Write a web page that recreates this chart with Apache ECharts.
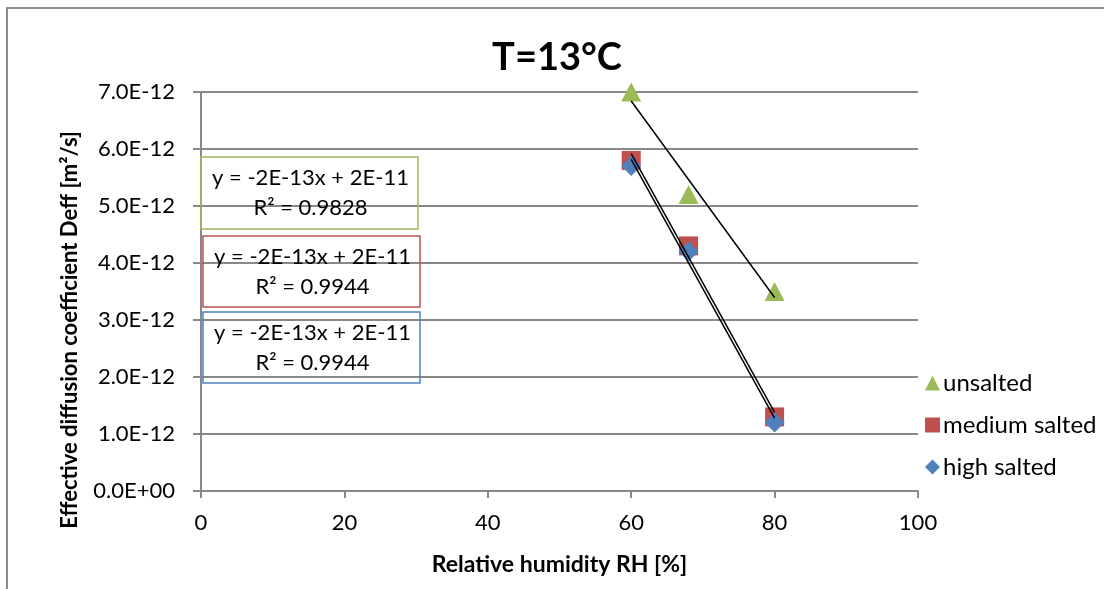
<!DOCTYPE html>
<html>
<head>
<meta charset="utf-8">
<script src="https://cdn.jsdelivr.net/npm/echarts@6/dist/echarts.min.js"></script>
<style>html,body{margin:0;padding:0;background:#fff}#c{width:1104px;height:589px}</style>
</head>
<body>
<div id="c"></div>
<script>
var titleText = 'T=13°C';
var xName = 'Relative humidity RH [%]';
var yName = 'Effective diffusion coefficient Deff [m²/s]';
var xValues = [60, 68, 80];
var unsalted = [7.0e-12, 5.2e-12, 3.5e-12];
var mediumSalted = [5.8e-12, 4.3e-12, 1.3e-12];
var highSalted = [5.7e-12, 4.2e-12, 1.2e-12];
var seriesNames = ['unsalted', 'medium salted', 'high salted'];
var eqLabels = [
  ['y = -2E-13x + 2E-11', 'R² = 0.9828'],
  ['y = -2E-13x + 2E-11', 'R² = 0.9944'],
  ['y = -2E-13x + 2E-11', 'R² = 0.9944']
];
var yTickLabels = ['0.0E+00','1.0E-12','2.0E-12','3.0E-12','4.0E-12','5.0E-12','6.0E-12','7.0E-12'];

var colors = ['#9BBB59', '#C0504D', '#4F81BD'];
var FONT = 'Lato, "Open Sans", sans-serif';

function pairs(xs, ys) { return xs.map(function (x, i) { return [x, ys[i]]; }); }
function trend(xs, ys) {
  var n = xs.length, mx = 0, my = 0;
  for (var i = 0; i < n; i++) { mx += xs[i]; my += ys[i]; }
  mx /= n; my /= n;
  var sxy = 0, sxx = 0;
  for (var j = 0; j < n; j++) { sxy += (xs[j] - mx) * (ys[j] - my); sxx += (xs[j] - mx) * (xs[j] - mx); }
  var b = sxy / sxx, a = my - b * mx;
  var x0 = Math.min.apply(null, xs), x1 = Math.max.apply(null, xs);
  return [[x0, a + b * x0], [x1, a + b * x1]];
}

var chart = echarts.init(document.getElementById('c'), null, { renderer: 'canvas' });
var allY = [unsalted, mediumSalted, highSalted];
var symbols = ['triangle', 'rect', 'diamond'];
var sizes = [[20, 19], [19, 19], [20, 20]];
var series = [];
for (var k = 0; k < 3; k++) {
  series.push({
    name: seriesNames[k], type: 'scatter', data: pairs(xValues, allY[k]),
    symbol: symbols[k], symbolSize: sizes[k],
    itemStyle: { color: colors[k], opacity: 1 }, z: 2
  });
}
for (var m = 0; m < 3; m++) {
  series.push({
    name: 'trend' + m, type: 'line', data: trend(xValues, allY[m]),
    showSymbol: false, symbol: 'none', silent: true,
    lineStyle: { color: '#000', width: 1.5 }, z: 5
  });
}

var boxes = [
  { x: 201, y: 157, w: 217, h: 72, c: colors[0] },
  { x: 203, y: 236, w: 217, h: 71, c: colors[1] },
  { x: 203, y: 312, w: 217, h: 71, c: colors[2] }
];
var graphics = [
  { type: 'rect', shape: { x: 7, y: 8, width: 1110, height: 600 }, style: { fill: 'none', stroke: '#8c8c8c', lineWidth: 2 }, silent: true },
  { type: 'text', x: 70, y: 330, rotation: Math.PI / 2, style: { text: yName, font: 'bold 22px ' + FONT, fill: '#000', textAlign: 'center', textVerticalAlign: 'middle' } }
];
boxes.forEach(function (b, i) {
  graphics.push({ type: 'rect', shape: { x: b.x, y: b.y, width: b.w, height: b.h }, style: { fill: 'none', stroke: b.c, lineWidth: 1.5 }, z: 10 });
  graphics.push({ type: 'text', x: b.x + b.w / 2 + 1, y: b.y + b.h / 2, z: 10,
    style: { text: eqLabels[i].join('\n'), font: '22px ' + FONT, lineHeight: 30, fill: '#000', textAlign: 'center', textVerticalAlign: 'middle' } });
});

chart.setOption({
  animation: false,
  backgroundColor: '#fff',
  title: { text: titleText, left: 552, top: 34, textAlign: 'center',
    textStyle: { fontFamily: FONT, fontWeight: 'bold', fontSize: 38, color: '#000' } },
  grid: { left: 201, right: 186, top: 92, bottom: 98, containLabel: false },
  legend: {
    data: seriesNames.map(function (n, i) { return { name: n, icon: symbols[i] }; }),
    orient: 'vertical', left: 920, top: 366, itemWidth: 15, itemHeight: 15, itemGap: 18,
    textStyle: { fontFamily: FONT, fontSize: 24, color: '#000', lineHeight: 24, padding: [0, 0, 0, -2] }
  },
  xAxis: {
    type: 'value', min: 0, max: 100, interval: 20,
    name: xName, nameLocation: 'middle', nameGap: 62,
    nameTextStyle: { fontFamily: FONT, fontWeight: 'bold', fontSize: 23, color: '#000' },
    axisLine: { show: true, lineStyle: { color: '#888', width: 2 } },
    axisTick: { show: true, length: 7, lineStyle: { color: '#888', width: 2 } },
    axisLabel: { fontFamily: FONT, fontSize: 22, color: '#000', margin: 21 },
    splitLine: { show: false }
  },
  yAxis: {
    type: 'value', min: 0, max: 7e-12, interval: 1e-12,
    axisLine: { show: true, lineStyle: { color: '#888', width: 2 } },
    axisTick: { show: true, length: 8, lineStyle: { color: '#888', width: 2 } },
    axisLabel: { fontFamily: FONT, fontSize: 22, color: '#000', margin: 26,
      formatter: function (v) { return yTickLabels[Math.round(v / 1e-12)]; } },
    splitLine: { show: true, lineStyle: { color: '#888', width: 2 } }
  },
  series: series,
  graphic: graphics
});
</script>
</body>
</html>
